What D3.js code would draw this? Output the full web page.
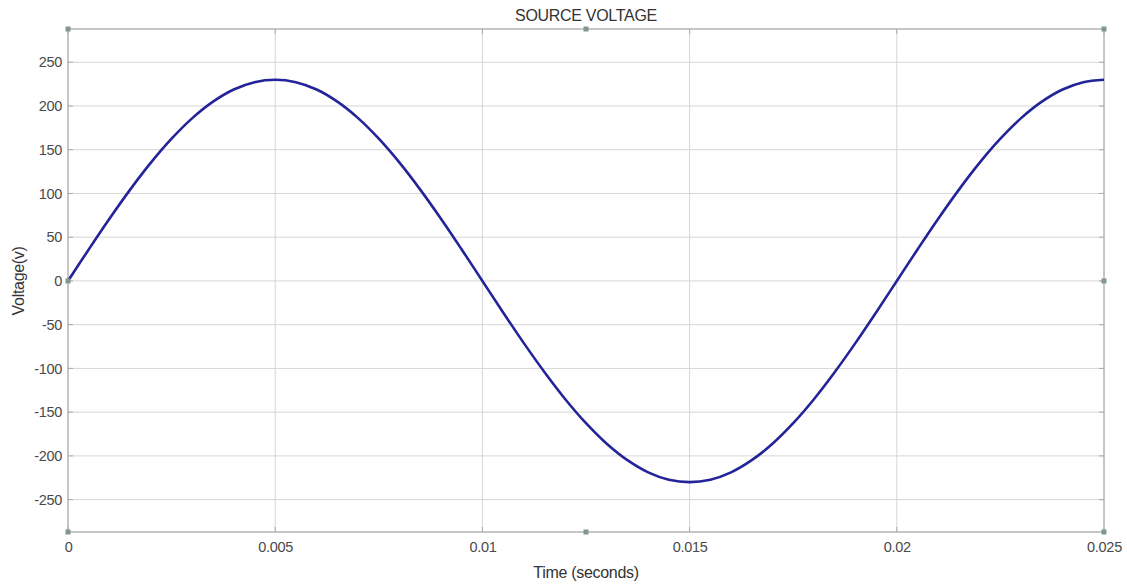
<!DOCTYPE html>
<html>
<head>
<meta charset="utf-8">
<script src="https://cdn.jsdelivr.net/npm/d3@7"></script>
<style>
  html, body { margin: 0; padding: 0; background: #fff; }
  svg { display: block; font-family: Arial, "Liberation Sans", sans-serif; }
</style>
</head>
<body>
<svg id="chart" width="1127" height="588"></svg>
<script>
// Sampled source voltage (V) against time (s)
const timeSec = [
  0, 0.0005, 0.001, 0.0015, 0.002, 0.0025, 0.003, 0.0035, 0.004, 0.0045,
  0.005, 0.0055, 0.006, 0.0065, 0.007, 0.0075, 0.008, 0.0085, 0.009, 0.0095,
  0.01, 0.0105, 0.011, 0.0115, 0.012, 0.0125, 0.013, 0.0135, 0.014, 0.0145,
  0.015, 0.0155, 0.016, 0.0165, 0.017, 0.0175, 0.018, 0.0185, 0.019, 0.0195,
  0.02, 0.0205, 0.021, 0.0215, 0.022, 0.0225, 0.023, 0.0235, 0.024, 0.0245,
  0.025
];
const voltage = [
  0, 36.0, 71.1, 104.4, 135.2, 162.6, 186.1, 204.9, 218.8, 227.2,
  230, 227.2, 218.8, 204.9, 186.1, 162.6, 135.2, 104.4, 71.1, 36.0,
  0, -36.0, -71.1, -104.4, -135.2, -162.6, -186.1, -204.9, -218.8, -227.2,
  -230, -227.2, -218.8, -204.9, -186.1, -162.6, -135.2, -104.4, -71.1, -36.0,
  0, 36.0, 71.1, 104.4, 135.2, 162.6, 186.1, 204.9, 218.8, 227.2,
  230
];
const xTicks = [0, 0.005, 0.01, 0.015, 0.02, 0.025];
const xTickLabels = ["0", "0.005", "0.01", "0.015", "0.02", "0.025"];
const yTicks = [250, 200, 150, 100, 50, 0, -50, -100, -150, -200, -250];
const yTickLabels = ["250", "200", "150", "100", "50", "0", "-50", "-100", "-150", "-200", "-250"];

const titleText = "SOURCE VOLTAGE";
const xLabel = "Time (seconds)";
const yLabel = "Voltage(v)";

const svg = d3.select("#chart");
const plotLeft = 68, plotRight = 1104, plotTop = 29, plotBottom = 532;

const x = d3.scaleLinear().domain([0, 0.025]).range([plotLeft, plotRight]);
const y = d3.scaleLinear().domain([-287, 288]).range([plotBottom, plotTop]);

const gridColor = "#d6d6d6";
const frameColor = "#b4b4b4";
const textColor = "#4a4a4a";
const fontFamily = "Arial, 'Liberation Sans', sans-serif";

// Grid
svg.append("g").selectAll("line").data(yTicks).join("line")
  .attr("x1", plotLeft).attr("x2", plotRight)
  .attr("y1", d => y(d)).attr("y2", d => y(d))
  .attr("stroke", gridColor).attr("stroke-width", 1);
svg.append("g").selectAll("line").data(xTicks.slice(1, -1)).join("line")
  .attr("y1", plotTop).attr("y2", plotBottom)
  .attr("x1", d => x(d)).attr("x2", d => x(d))
  .attr("stroke", gridColor).attr("stroke-width", 1);

// Frame
svg.append("rect")
  .attr("x", plotLeft).attr("y", plotTop)
  .attr("width", plotRight - plotLeft).attr("height", plotBottom - plotTop)
  .attr("fill", "none").attr("stroke", frameColor).attr("stroke-width", 1.5);

// Axes (labels only; ticks drawn inward)
const yAxis = d3.axisLeft(y).tickValues(yTicks).tickSize(0).tickPadding(6)
  .tickFormat((d, i) => yTickLabels[i]);
const gy = svg.append("g").attr("transform", `translate(${plotLeft},0)`).call(yAxis);
gy.select(".domain").remove();
gy.selectAll("text").attr("fill", textColor).attr("font-size", 14.5)
  .attr("font-family", fontFamily).attr("letter-spacing", -0.3);

const xAxis = d3.axisBottom(x).tickValues(xTicks).tickSize(0).tickPadding(10)
  .tickFormat((d, i) => xTickLabels[i]);
const gx = svg.append("g").attr("transform", `translate(0,${plotBottom})`).call(xAxis);
gx.select(".domain").remove();
gx.selectAll("text").attr("fill", textColor).attr("font-size", 14.5)
  .attr("font-family", fontFamily).attr("letter-spacing", -0.3);

// Inward tick marks on all sides
const tk = 5;
const ticksG = svg.append("g").attr("stroke", "#aaa").attr("stroke-width", 1);
yTicks.forEach(v => {
  ticksG.append("line").attr("x1", plotLeft).attr("x2", plotLeft + tk).attr("y1", y(v)).attr("y2", y(v));
  ticksG.append("line").attr("x1", plotRight - tk).attr("x2", plotRight).attr("y1", y(v)).attr("y2", y(v));
});
xTicks.forEach(v => {
  ticksG.append("line").attr("y1", plotBottom).attr("y2", plotBottom - tk).attr("x1", x(v)).attr("x2", x(v));
  ticksG.append("line").attr("y1", plotTop).attr("y2", plotTop + tk).attr("x1", x(v)).attr("x2", x(v));
});

// Waveform
svg.append("clipPath").attr("id", "plotClip").append("rect")
  .attr("x", plotLeft).attr("y", plotTop)
  .attr("width", plotRight - plotLeft).attr("height", plotBottom - plotTop);
const line = d3.line()
  .x((d, i) => x(timeSec[i]))
  .y(d => y(d))
  .curve(d3.curveCatmullRom);
svg.append("path")
  .datum(voltage)
  .attr("clip-path", "url(#plotClip)")
  .attr("d", line)
  .attr("fill", "none")
  .attr("stroke", "#23239a")
  .attr("stroke-width", 2.6)
  .attr("stroke-linejoin", "round");

// Frame handles
const midX = x(0.0125), zeroY = y(0);
const handles = [
  [plotLeft, plotTop], [midX, plotTop], [plotRight, plotTop],
  [plotLeft, zeroY], [plotRight, zeroY],
  [plotLeft, plotBottom], [midX, plotBottom], [plotRight, plotBottom]
];
svg.append("g").selectAll("rect").data(handles).join("rect")
  .attr("x", d => d[0] - 2.5).attr("y", d => d[1] - 2.5)
  .attr("width", 5).attr("height", 5)
  .attr("fill", "#7f9790");

// Titles
svg.append("text").attr("x", (plotLeft + plotRight) / 2).attr("y", 21)
  .attr("text-anchor", "middle").attr("font-size", 16).attr("fill", "#333")
  .attr("letter-spacing", -0.3)
  .text(titleText);
svg.append("text").attr("x", (plotLeft + plotRight) / 2).attr("y", 578)
  .attr("text-anchor", "middle").attr("font-size", 16).attr("fill", "#333")
  .attr("letter-spacing", -0.3)
  .text(xLabel);
svg.append("text")
  .attr("transform", `translate(24,${y(0)}) rotate(-90)`)
  .attr("text-anchor", "middle").attr("font-size", 16).attr("fill", "#333")
  .attr("letter-spacing", -0.3)
  .text(yLabel);
</script>
</body>
</html>
